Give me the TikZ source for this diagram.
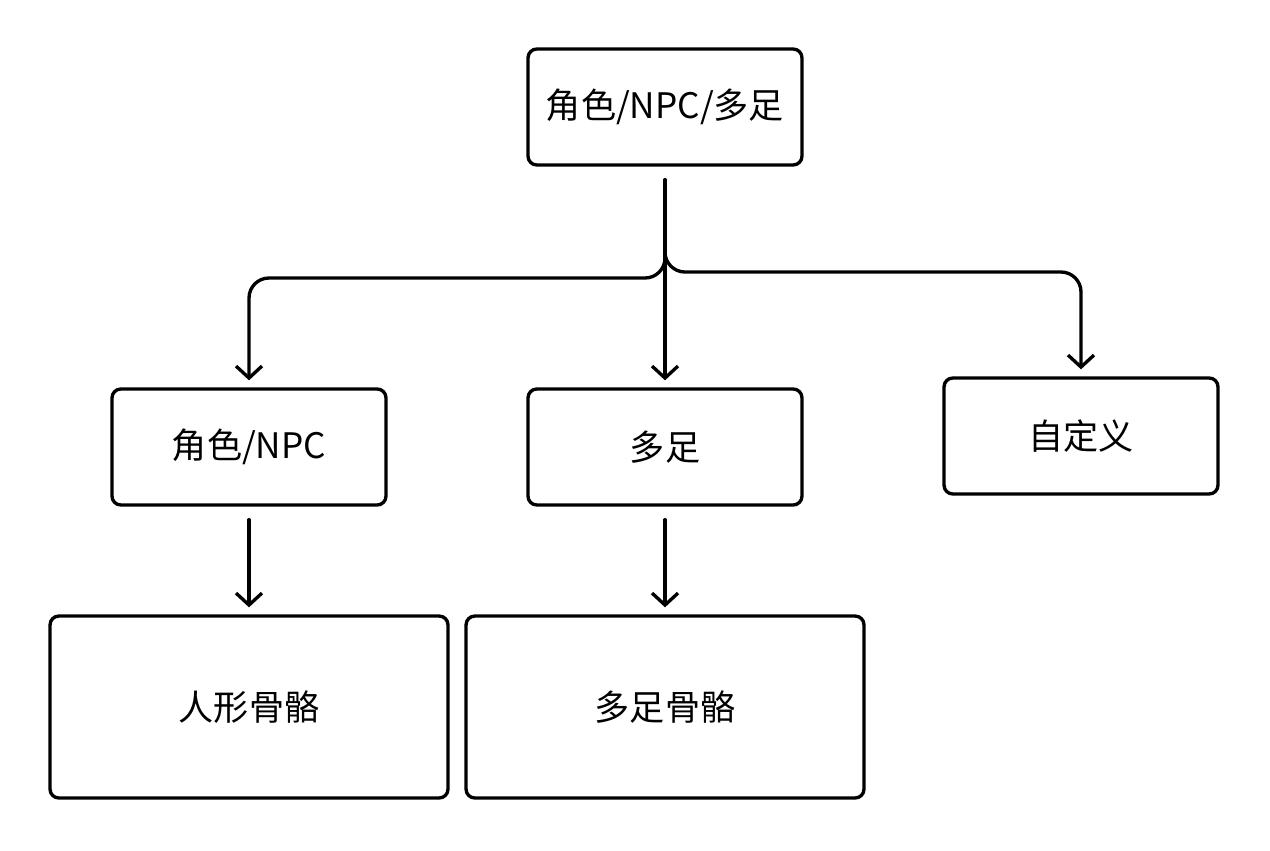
\documentclass[tikz,border=0pt]{standalone}
\usepackage{fontspec}
\setmainfont{Noto Sans CJK SC}
\usetikzlibrary{arrows.meta,positioning}
\tikzset{
  box/.style={draw, line width=1.9pt, rounded corners=5pt, minimum width=5.48cm, minimum height=2.32cm, font=\fontsize{20}{22}\selectfont},
  bigbox/.style={box, minimum width=7.96cm, minimum height=3.64cm},
  link/.style={line width=1.9pt, line cap=round, rounded corners=0.4cm, -{Straight Barb[length=2.4mm,width=5.2mm,line width=1.9pt]}, shorten <=7.4pt, shorten >=4pt}
}
\begin{document}
\begin{tikzpicture}[x=0.02cm, y=-0.02cm]
  \useasboundingbox (0,0) rectangle (1270,850);
  % ---------------- nodes ----------------
  \node[box] (root) at (665,107) {角色/NPC/多足};
  \node[box] (npc) at (249,447) {角色/NPC};
  \node[box] (multi) at (665,447) {多足};
  \node[box] (custom) at (1081,436) {自定义};
  \node[bigbox] (human) at (249,707) {人形骨骼};
  \node[bigbox] (legs) at (665,707) {多足骨骼};
  % ---------------- links ----------------
  \coordinate (forkL) at (665,278);
  \coordinate (forkR) at (665,272);
  \draw[link] (root.south) -- (forkL) -| (npc.north);
  \draw[link] (root.south) -- (multi.north);
  \draw[link] (root.south) -- (forkR) -| (custom.north);
  \draw[link] (npc.south) -- (human.north);
  \draw[link] (multi.south) -- (legs.north);
\end{tikzpicture}
\end{document}
